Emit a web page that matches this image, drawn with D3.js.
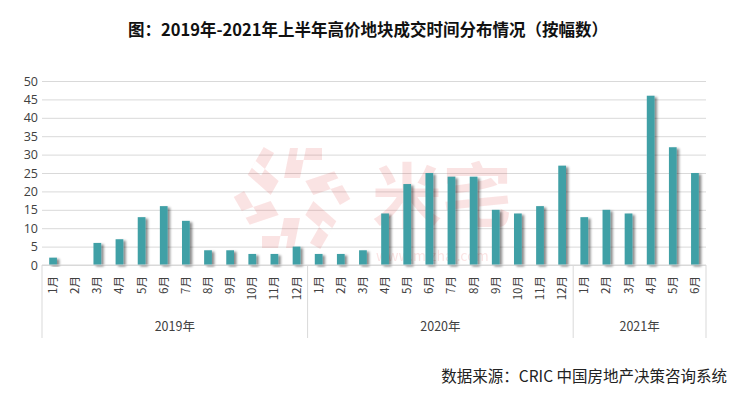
<!DOCTYPE html>
<html>
<head>
<meta charset="utf-8">
<script src="https://cdn.jsdelivr.net/npm/d3@7"></script>
<style>
  html, body { margin: 0; padding: 0; background: #fff; }
  svg { display: block; font-family: "Noto Sans CJK SC", "Noto Sans", sans-serif; }
</style>
</head>
<body>
<svg width="740" height="393"></svg>
<script>
// chart data
const yearLabels = ["2019年", "2020年", "2021年"];
const monthLabels2019 = ["1月","2月","3月","4月","5月","6月","7月","8月","9月","10月","11月","12月"];
const monthLabels2020 = ["1月","2月","3月","4月","5月","6月","7月","8月","9月","10月","11月","12月"];
const monthLabels2021 = ["1月","2月","3月","4月","5月","6月"];
const values2019 = [2, 0, 6, 7, 13, 16, 12, 4, 4, 3, 3, 5];
const values2020 = [3, 3, 4, 14, 22, 25, 24, 24, 15, 14, 16, 27];
const values2021 = [13, 15, 14, 46, 32, 25];
const yTicks = [0, 5, 10, 15, 20, 25, 30, 35, 40, 45, 50];

const groups = [
  {year: yearLabels[0], months: monthLabels2019, values: values2019},
  {year: yearLabels[1], months: monthLabels2020, values: values2020},
  {year: yearLabels[2], months: monthLabels2021, values: values2021}
];

let data = [];
groups.forEach((g, gi) => {
  g.months.forEach((m, i) => {
    data.push({key: g.year + m, month: m, year: g.year, group: gi, value: g.values[i]});
  });
});

let svg = d3.select("svg");
let margin = {top: 81, left: 42, right: 34, bottom: 128};
let width = 740 - margin.left - margin.right, height = 393 - margin.top - margin.bottom;

let x = d3.scaleBand().domain(data.map(d => d.key)).range([margin.left, margin.left + width]).padding(0);
let y = d3.scaleLinear().domain([0, 50]).range([margin.top + height, margin.top]);
let barW = x.bandwidth() * 0.35;

let defs = svg.append("defs");
let f = defs.append("filter").attr("id", "shadow").attr("x", "-50%").attr("y", "-10%").attr("width", "250%").attr("height", "130%");
f.append("feDropShadow").attr("dx", 2.5).attr("dy", 1.5).attr("stdDeviation", 1.2)
  .attr("flood-color", "#000").attr("flood-opacity", 0.45);

// title
svg.append("text")
  .attr("x", 368).attr("y", 36)
  .attr("text-anchor", "middle")
  .attr("font-size", "16.5px").attr("font-weight", "bold").attr("fill", "#111")
  .text("图：2019年-2021年上半年高价地块成交时间分布情况（按幅数）");

// gridlines
let grid = svg.append("g")
  .attr("transform", "translate(" + margin.left + ",0)")
  .call(d3.axisLeft(y).tickValues(yTicks).tickSize(-width).tickFormat(""));
grid.select(".domain").remove();
grid.selectAll("line").attr("stroke", "#d9d9d9").attr("stroke-width", 1);

// watermark (mizhai logo, faint)
let wm = svg.append("g").attr("opacity", 0.13).attr("fill", "#e03030");
let logo = wm.append("g").attr("transform", "translate(292,198)");
d3.range(6).forEach(i => {
  logo.append("path")
    .attr("d", "M-8,-20 L8,-20 L14,-50 L-2,-50 Z M6,-50 L30,-50 L30,-38 L4,-38 Z")
    .attr("transform", "rotate(" + (i * 60) + ")");
});
wm.append("text").attr("x", 372).attr("y", 222).attr("font-size", "70px").attr("font-weight", "bold").text("米宅");
wm.append("text").attr("x", 376).attr("y", 261).attr("font-size", "14px").text("www.mizhai.com");

// y labels
let yAxis = svg.append("g")
  .attr("transform", "translate(" + (margin.left - 4) + ",0)")
  .call(d3.axisLeft(y).tickValues(yTicks).tickSize(0).tickPadding(0));
yAxis.select(".domain").remove();
yAxis.selectAll("text").attr("font-size", "12.5px").attr("fill", "#404040")
  .attr("font-family", "'Open Sans', 'Noto Sans', sans-serif");

// bars
svg.append("g").selectAll("rect")
  .data(data)
  .enter().append("rect")
  .attr("x", d => x(d.key) + (x.bandwidth() - barW) / 2)
  .attr("y", d => y(d.value))
  .attr("width", barW)
  .attr("height", d => y(0) - y(d.value))
  .attr("fill", "#41a0a6")
  .attr("filter", d => d.value > 0 ? "url(#shadow)" : null);

// category axis
let axisBottomY = y(0);
let boxBottom = 338;
svg.append("line")
  .attr("x1", margin.left).attr("x2", margin.left + width)
  .attr("y1", axisBottomY).attr("y2", axisBottomY)
  .attr("stroke", "#d9d9d9");

let edges = [data[0].key];
groups.forEach((g, gi) => {
  let keys = data.filter(d => d.group == gi).map(d => d.key);
  edges.push(keys[keys.length - 1]);
});
let sepX = [x(edges[0])].concat(edges.slice(1).map(k => x(k) + x.bandwidth()));
svg.append("g").selectAll("line")
  .data(sepX)
  .enter().append("line")
  .attr("x1", d => d).attr("x2", d => d)
  .attr("y1", axisBottomY).attr("y2", boxBottom)
  .attr("stroke", "#d9d9d9");

svg.append("g").selectAll("text")
  .data(data)
  .enter().append("text")
  .attr("transform", d => "translate(" + (x(d.key) + x.bandwidth() / 2 + 4) + "," + (axisBottomY + 11) + ") rotate(-90)")
  .attr("text-anchor", "end")
  .attr("font-size", "11.5px").attr("fill", "#404040")
  .text(d => d.month);

svg.append("g").selectAll("text")
  .data(groups)
  .enter().append("text")
  .attr("x", (g, gi) => (sepX[gi] + sepX[gi + 1]) / 2)
  .attr("y", 331)
  .attr("text-anchor", "middle")
  .attr("font-size", "12.5px").attr("fill", "#404040")
  .text(g => g.year);

// source
svg.append("text")
  .attr("x", 727).attr("y", 382)
  .attr("text-anchor", "end")
  .attr("font-size", "15.5px").attr("fill", "#222")
  .text("数据来源：CRIC 中国房地产决策咨询系统");
</script>
</body>
</html>
